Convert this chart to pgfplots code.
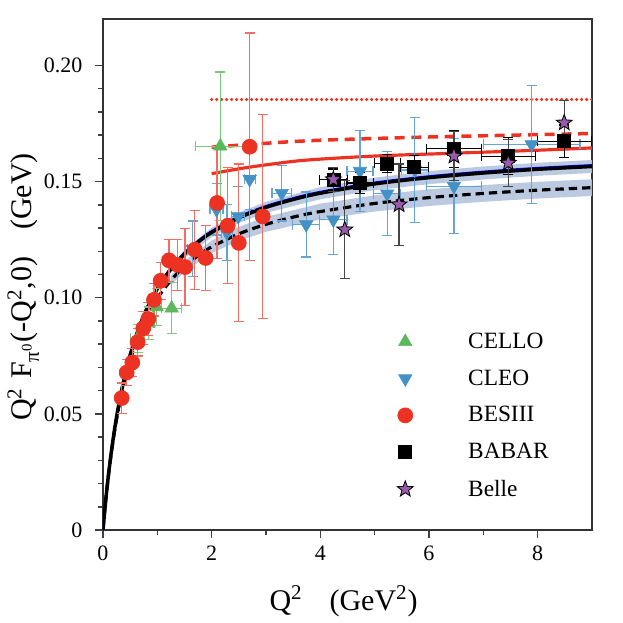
\documentclass[border=0pt]{standalone}
\usepackage{fontspec}
\setmainfont{Liberation Serif}
\usepackage{pgfplots}
\pgfplotsset{compat=1.18}
\definecolor{cred}{RGB}{235,50,35}
\definecolor{credl}{RGB}{240,110,100}
\definecolor{cgreen}{RGB}{92,184,92}
\definecolor{cgreenl}{RGB}{125,200,125}
\definecolor{cblue}{RGB}{67,146,198}
\definecolor{cbluel}{RGB}{100,165,212}
\definecolor{cpurple}{RGB}{152,90,170}
\definecolor{cband}{RGB}{180,196,222}
\definecolor{cgray}{RGB}{70,70,70}
\pgfdeclareplotmark{fstar}{%
  \pgfpathmoveto{\pgfpointpolar{90}{\pgfplotmarksize}}%
  \pgfpathlineto{\pgfpointpolar{126}{0.42\pgfplotmarksize}}%
  \pgfpathlineto{\pgfpointpolar{162}{\pgfplotmarksize}}%
  \pgfpathlineto{\pgfpointpolar{198}{0.42\pgfplotmarksize}}%
  \pgfpathlineto{\pgfpointpolar{234}{\pgfplotmarksize}}%
  \pgfpathlineto{\pgfpointpolar{270}{0.42\pgfplotmarksize}}%
  \pgfpathlineto{\pgfpointpolar{306}{\pgfplotmarksize}}%
  \pgfpathlineto{\pgfpointpolar{342}{0.42\pgfplotmarksize}}%
  \pgfpathlineto{\pgfpointpolar{18}{\pgfplotmarksize}}%
  \pgfpathlineto{\pgfpointpolar{54}{0.42\pgfplotmarksize}}%
  \pgfpathclose
  \pgfusepathqfillstroke}
\begin{document}
\begin{tikzpicture}
\begin{axis}[
  scale only axis,
  width=293.4pt, height=306.6pt,
  xmin=0, xmax=9, ymin=0, ymax=0.22,
  xtick={0,2,4,6,8}, xticklabels={0,2,4,6,8},
  ytick={0,0.05,0.1,0.15,0.2}, yticklabels={0,0.05,0.10,0.15,0.20},
  minor x tick num=1, minor y tick num=4,
  tick align=outside, tick pos=left,
  major tick length=4.8pt, minor tick length=3pt,
  every tick/.style={black!75, line width=0.9pt},
  axis line style={line width=0.9pt, black!80},
  ticklabel style={font=\fontsize{13.2}{16}\selectfont},
  yticklabel style={xshift=-4pt},
  xticklabel style={yshift=-1pt},
  xlabel={Q\textsuperscript{2}\hspace{0.9em}(GeV\textsuperscript{2})},
  ylabel={Q\textsuperscript{2}\hspace{0.3em}F\textsubscript{π\textsuperscript{0}}(-Q\textsuperscript{2},0)\hspace{0.9em}(GeV)},
  label style={font=\fontsize{18}{20}\selectfont},
  xlabel style={at={(rel axis cs:0.492,-0.139)}, anchor=center},
  ylabel style={at={(rel axis cs:-0.163,0.4755)}, anchor=center},
  legend style={draw=none, fill=none, at={(axis cs:5.32,0.0879)}, anchor=north west,
    row sep=7.3pt, font=\fontsize{14}{16}\selectfont},
  legend cell align=left,
]
\coordinate (bbl) at (rel axis cs:-0.2106,-0.182);
\coordinate (btr) at (rel axis cs:1.0634,1.0372);
% bands
\addplot[fill=cband, draw=none, fill opacity=0.9, forget plot] coordinates {
(1.25,0.1138)(1.5,0.1205)(2,0.1301)(2.5,0.1366)(3,0.1413)(4,0.1476)(5,0.1517)(6,0.1545)(7,0.1565)(8,0.1581)(9,0.1593)
(9,0.1537)(8,0.1525)(7,0.1509)(6,0.1489)(5,0.1463)(4,0.1424)(3,0.1365)(2.5,0.1322)(2,0.1261)(1.5,0.1171)(1.25,0.1108)} -- cycle;
\addplot[fill=cband, draw=none, fill opacity=0.9, forget plot] coordinates {
(1.25,0.1095)(1.5,0.1158)(2,0.1246)(2.5,0.1305)(3,0.1348)(4,0.1405)(5,0.1441)(6,0.1467)(7,0.1485)(8,0.1499)(9,0.1510)
(9,0.1438)(8,0.1427)(7,0.1413)(6,0.1395)(5,0.1371)(4,0.1337)(3,0.1284)(2.5,0.1245)(2,0.1192)(1.5,0.1112)(1.25,0.1055)} -- cycle;
% black dashed
\addplot[black, line width=1.9pt, dash pattern=on 5pt off 3pt, smooth, forget plot] coordinates {
(0,0)(0.05,0.0126)(0.1,0.02332)(0.15,0.03256)(0.2,0.0406)(0.25,0.04767)(0.3,0.0539)(0.4,0.0645)(0.5,0.0731)(0.6,0.0802)(0.7,0.08625)(0.8,0.0914)(1.0,0.0997)(1.25,0.1075)(1.5,0.1135)(1.75,0.1181)(2,0.1219)(2.5,0.1275)(3,0.1316)(3.5,0.1347)(4,0.1371)(5,0.1406)(6,0.1431)(7,0.1449)(8,0.1463)(9,0.1474)};
% blue edge + black solid
\addplot[blue, line width=1.2pt, smooth, forget plot] coordinates {
(0,0)(0.05,0.0133)(0.1,0.0242)(0.15,0.0337)(0.2,0.0419)(0.25,0.0492)(0.3,0.0557)(0.4,0.0668)(0.5,0.0759)(0.6,0.0835)(0.7,0.0899)(0.8,0.0955)(1.0,0.1044)(1.25,0.1129)(1.5,0.1194)(1.75,0.1245)(2,0.1287)(2.5,0.1350)(3,0.1395)(3.5,0.1429)(4,0.1456)(5,0.1496)(6,0.1523)(7,0.1543)(8,0.1559)(9,0.1571)};
\addplot[black, line width=2.1pt, smooth, forget plot] coordinates {
(0,0)(0.05,0.01266)(0.1,0.02354)(0.15,0.03298)(0.2,0.04127)(0.25,0.04858)(0.3,0.05509)(0.4,0.06618)(0.5,0.07527)(0.6,0.08286)(0.7,0.0893)(0.8,0.09485)(1.0,0.1038)(1.25,0.1123)(1.5,0.1188)(1.75,0.1239)(2,0.1281)(2.5,0.1344)(3,0.1389)(3.5,0.1423)(4,0.1450)(5,0.1490)(6,0.1517)(7,0.1537)(8,0.1553)(9,0.1565)};
% red lines
\addplot[cred, line width=2.1pt, line cap=round, dash pattern=on 0pt off 3pt, forget plot] coordinates {(2,0.1853)(9,0.1853)};
\addplot[cred, line width=2.1pt, dash pattern=on 6pt off 4pt, smooth, forget plot] coordinates {(2,0.1648)(3,0.1665)(4,0.1678)(6,0.1692)(9,0.1707)};
\addplot[cred, line width=1.9pt, smooth, forget plot] coordinates {(2,0.1534)(2.5,0.1555)(3,0.1572)(3.72,0.1592)(5,0.1610)(6.44,0.1622)(8,0.1635)(9,0.1645)};
% CELLO
\addplot[only marks, mark=triangle*, mark size=4.6pt, color=cgreen, mark options={fill=cgreen, draw=cgreen},
  error bars/.cd, x dir=both, x explicit, y dir=both, y explicit,
  error bar style={cgreenl, line width=0.7pt},
  error mark options={rotate=90, cgreenl, mark size=3pt, line width=0.7pt}]
  table[x=x, y=y, x error=ex, y error=ey] {
x y ex ey
0.64 0.0825 0.13 0.006
0.84 0.0890 0.10 0.007
0.99 0.0960 0.08 0.008
1.264 0.0955 0.18 0.011
2.16 0.1652 0.45 0.032
};
\addlegendentry{\hspace*{31pt}CELLO}
% CLEO
\addplot[only marks, mark=triangle*, mark size=4.6pt, color=cblue, mark options={rotate=180, fill=cblue, draw=cblue},
  error bars/.cd, x dir=both, x explicit, y dir=both, y explicit,
  error bar style={cbluel, line width=0.7pt},
  error mark options={rotate=90, cbluel, mark size=3pt, line width=0.7pt}]
  table[x=x, y=y, x error=ex, y error=ey] {
x y ex ey
1.65 0.121 0.10 0.012
2.09 0.138 0.12 0.011
2.28 0.128 0.10 0.012
2.49 0.135 0.12 0.013
2.70 0.151 0.10 0.013
3.29 0.145 0.18 0.012
3.74 0.1315 0.25 0.014
4.24 0.1336 0.25 0.015
4.73 0.1545 0.24 0.0175
5.23 0.1448 0.25 0.018
5.74 0.155 0.25 0.0225
6.46 0.148 0.50 0.0205
7.89 0.166 0.89 0.0255
};
\addlegendentry{\hspace*{31pt}CLEO}
% BESIII
\addplot[only marks, mark=*, mark size=4.5pt, color=cred, mark options={fill=cred, draw=cred},
  error bars/.cd, y dir=both, y explicit,
  error bar style={credl, line width=0.7pt},
  error mark options={rotate=90, credl, mark size=3pt, line width=0.7pt}]
  table[x=x, y=y, y error=ey] {
x y ey
0.344 0.0568 0.0065
0.436 0.0678 0.0055
0.54 0.0721 0.006
0.638 0.0809 0.006
0.742 0.0869 0.007
0.834 0.0908 0.007
0.939 0.0991 0.007
1.062 0.1073 0.008
1.215 0.1161 0.009
1.37 0.1142 0.011
1.51 0.1132 0.0165
1.69 0.1207 0.017
1.89 0.1171 0.014
2.10 0.1408 0.024
2.295 0.1310 0.025
2.50 0.1236 0.034
2.70 0.1650 0.049
2.94 0.1350 0.044
};
\addlegendentry{\hspace*{31pt}BESIII}
% BABAR
\addplot[only marks, mark=square*, mark size=3.9pt, color=black, mark options={fill=black, draw=black},
  error bars/.cd, x dir=both, x explicit, y dir=both, y explicit,
  error bar style={black, line width=0.7pt},
  error mark options={rotate=90, black, mark size=3pt, line width=0.7pt}]
  table[x=x, y=y, x error=ex, y error=ey] {
x y ex ey
4.24 0.1509 0.26 0.0045
4.73 0.1494 0.25 0.0045
5.23 0.1578 0.24 0.004
5.73 0.1562 0.26 0.005
6.46 0.1641 0.50 0.008
7.46 0.1609 0.50 0.008
8.49 0.1674 0.50 0.007
};
\addlegendentry{\hspace*{31pt}BABAR}
% Belle
\addplot[only marks, mark=fstar, mark size=5pt, color=black, mark options={fill=cpurple, draw=black, line width=0.5pt},
  error bars/.cd, y dir=both, y explicit,
  error bar style={cgray, line width=0.7pt},
  error mark options={rotate=90, cgray, mark size=3pt, line width=0.7pt}]
  table[x=x, y=y, y error=ey] {
x y ey
4.24 0.1509 0.005
4.45 0.1293 0.021
5.45 0.1401 0.0175
6.46 0.1610 0.0105
7.46 0.1580 0.010
8.49 0.1753 0.0095
};
\addlegendentry{\hspace*{31pt}Belle}
\end{axis}
\path (bbl) rectangle (btr);
\end{tikzpicture}
\end{document}
